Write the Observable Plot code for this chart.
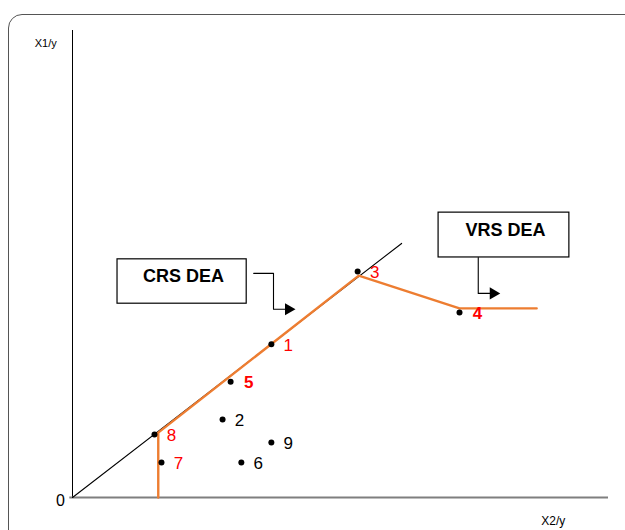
<!DOCTYPE html>
<html>
<head>
<meta charset="utf-8">
<script src="https://cdn.jsdelivr.net/npm/d3@7"></script>
<script src="https://cdn.jsdelivr.net/npm/@observablehq/plot@0.6"></script>
<style>
  html, body { margin: 0; padding: 0; background: #fff; }
  #wrap { position: relative; width: 625px; height: 530px; overflow: hidden; }
  #frame { position: absolute; left: 8px; top: 14px; width: 660px; height: 560px;
           border: 1.2px solid #555; border-radius: 14px; box-sizing: border-box; }
  #chart { position: absolute; left: 0; top: 0; }
  #chart svg { font-family: "Liberation Sans", Arial, sans-serif; }
</style>
</head>
<body>
<div id="wrap"><div id="frame"></div><div id="chart"></div></div>
<script>
// DMU observations (X2/y on horizontal axis, X1/y on vertical axis)
const dmuLabels = ["1", "2", "3", "4", "5", "6", "7", "8", "9"];
const dmuX2 = [3.71, 2.80, 5.32, 7.22, 2.95, 3.15, 1.66, 1.53, 3.71];
const dmuX1 = [3.28, 1.67, 4.84, 3.96, 2.48, 0.75, 0.75, 1.35, 1.18];
const efficientDMUs = ["1", "3", "4", "5", "7", "8"];
const boldDMUs = ["4", "5"];

// VRS frontier (orange piecewise line)
const vrsX2 = [1.60, 1.60, 5.34, 7.22, 8.66];
const vrsX1 = [0, 1.39, 4.75, 4.05, 4.05];

// CRS frontier (ray from origin)
const crsX2 = [0, 6.14];
const crsX1 = [0, 5.44];

// Annotation boxes
const boxNames = ["CRS DEA", "VRS DEA"];
const boxX2a = [0.84, 6.83], boxX2b = [3.25, 9.27];
const boxX1a = [4.15, 5.14], boxX1b = [5.10, 6.10];
const boxTextX2 = [2.07, 8.08], boxTextX1 = [4.73, 5.72];

// Annotation arrows (elbow connectors)
const crsArrowX2 = [3.38, 3.75, 3.75, 4.03];
const crsArrowX1 = [4.80, 4.80, 4.03, 4.03];
const vrsArrowX2 = [7.57, 7.57, 7.85];
const vrsArrowX1 = [5.14, 4.37, 4.37];

// Axis labels
const xAxisLabel = "X2/y";
const yAxisLabel = "X1/y";
const originLabel = "0";

const dmus = dmuLabels.map((l, i) => ({label: l, x: dmuX2[i], y: dmuX1[i]}));
const vrs = vrsX2.map((x, i) => ({x, y: vrsX1[i]}));
const crs = crsX2.map((x, i) => ({x, y: crsX1[i]}));
const boxes = boxNames.map((n, i) => ({name: n, x1: boxX2a[i], x2: boxX2b[i], y1: boxX1a[i], y2: boxX1b[i], tx: boxTextX2[i], ty: boxTextX1[i]}));
const arrows = [
  crsArrowX2.map((x, i) => ({x, y: crsArrowX1[i], k: "crs"})),
  vrsArrowX2.map((x, i) => ({x, y: vrsArrowX1[i], k: "vrs"}))
];
const heads = arrows.map(a => a[a.length - 1]);

const ORANGE = "#ED7D31";
const labelFill = d => efficientDMUs.includes(d.label) ? "#ff0000" : "#000";

const chart = Plot.plot({
  width: 625,
  height: 530,
  marginLeft: 72,
  marginRight: 17,
  marginTop: 30,
  marginBottom: 33,
  x: {domain: [0, 10], axis: null},
  y: {domain: [0, 10], axis: null},
  marks: [
    // axes
    Plot.ruleX([0], {y1: 0, y2: 10, stroke: "#000", strokeWidth: 1}),
    Plot.ruleY([0], {x1: -0.05, x2: 10, stroke: "#7f7f7f", strokeWidth: 2}),
    Plot.text([originLabel], {x: 0, y: 0, dx: -12, dy: 3, fontSize: 16, fill: "#000"}),
    Plot.text([yAxisLabel], {x: -0.5, y: 9.72, fontSize: 11, fill: "#000"}),
    Plot.text([xAxisLabel], {x: 8.97, y: -0.51, fontSize: 12, fill: "#000"}),
    // CRS ray
    Plot.line(crs, {x: "x", y: "y", stroke: "#000", strokeWidth: 1.1}),
    // VRS frontier
    Plot.line(vrs, {x: "x", y: "y", stroke: ORANGE, strokeWidth: 2.4}),
    // DMUs
    Plot.dot(dmus, {x: "x", y: "y", r: 3, fill: "#000"}),
    Plot.text(dmus.filter(d => !boldDMUs.includes(d.label)), {
      x: "x", y: "y", text: "label", dx: 17, dy: 1, fontSize: 17, fill: labelFill
    }),
    Plot.text(dmus.filter(d => boldDMUs.includes(d.label)), {
      x: "x", y: "y", text: "label", dx: 18, dy: 1, fontSize: 17, fontWeight: "bold", fill: labelFill
    }),
    // annotation boxes
    Plot.rect(boxes, {x1: "x1", x2: "x2", y1: "y1", y2: "y2", fill: "#fff", stroke: "#000", strokeWidth: 1.2}),
    Plot.text(boxes, {x: "tx", y: "ty", text: "name", fontSize: 18, fontWeight: "bold", fill: "#000", letterSpacing: "-0.5px"}),
    // arrows
    ...arrows.map(a => Plot.line(a, {x: "x", y: "y", stroke: "#000", strokeWidth: 1.1})),
    Plot.dot(heads, {x: "x", y: "y", symbol: "triangle", rotate: 90, r: 4.5, fill: "#000", stroke: "none"})
  ]
});
document.getElementById("chart").appendChild(chart);
</script>
</body>
</html>
